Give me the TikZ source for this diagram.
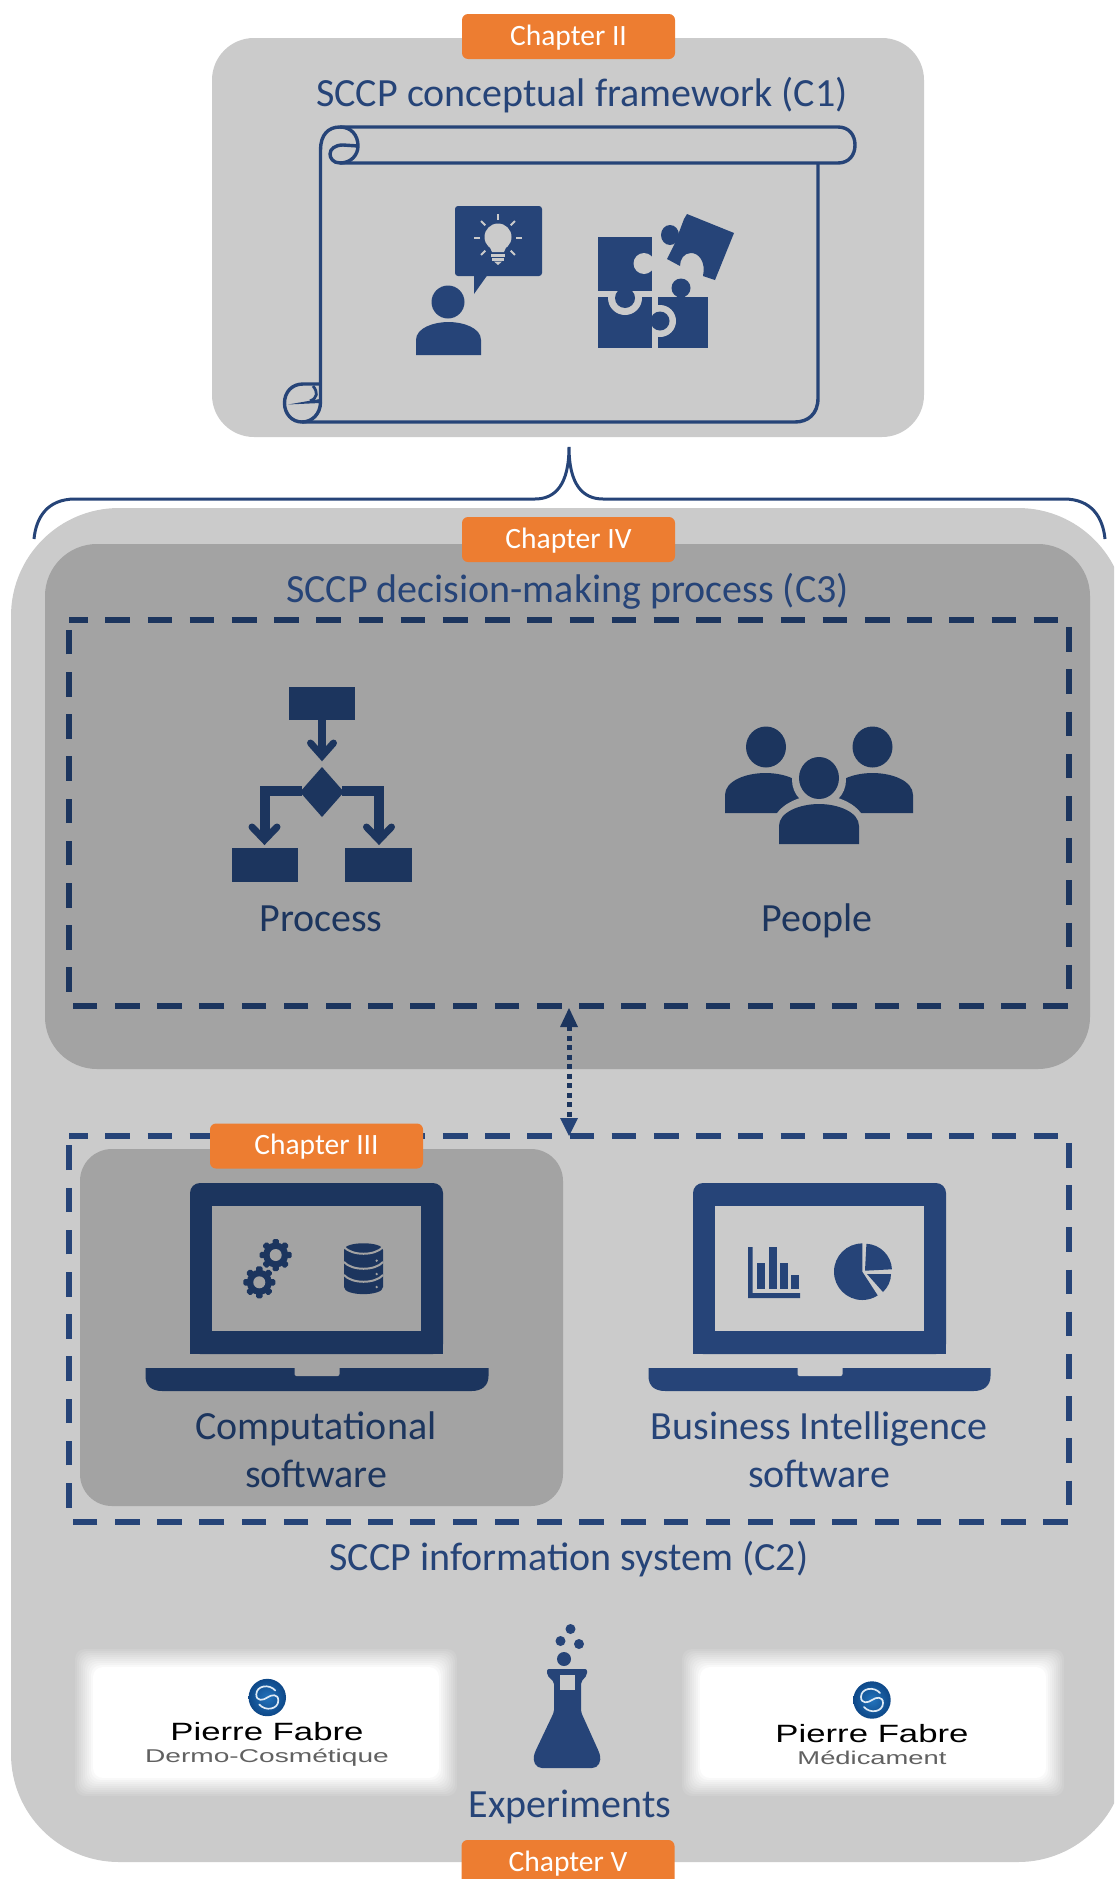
\documentclass[tikz,border=0pt]{standalone}
\usepackage{fontspec}
\setmainfont{Carlito}
\newfontfamily\pffont{Liberation Sans}
\definecolor{navy}{HTML}{264478}
\definecolor{darknavy}{HTML}{1C355E}
\definecolor{lightgrey}{HTML}{CBCBCB}
\definecolor{midgrey}{HTML}{A3A3A3}
\definecolor{tabor}{HTML}{ED7D31}
\definecolor{logoin}{HTML}{2273BC}
\definecolor{logoout}{HTML}{0E4888}
\tikzset{
  panel/.style={rounded corners=#1,draw=none},
  chaptertab/.style={fill=tabor,rounded corners=6pt,minimum height=45pt,minimum width=213pt,inner sep=0pt,
    text height=21pt,text depth=4pt,text=white,font=\fontsize{29.5}{32}\selectfont},
  heading/.style={anchor=base,inner sep=0pt,text=navy,font=\fontsize{40}{44}\selectfont},
  framebox/.style={minimum width=999.7pt,minimum height=385.7pt,inner sep=0pt,outer sep=0pt,anchor=north},
  dashedframe/.style={draw=#1,line width=6pt,dash pattern=on 24.6pt off 17.6pt,dash phase=6.2pt},
  scroll/.style={draw=navy,line width=3.4pt,line join=round,fill=none},
  pftext/.style={anchor=base,inner sep=0pt,transform shape,text=black,font=\pffont\fontsize{25}{28}\selectfont},
  pfsub/.style={anchor=base,inner sep=0pt,transform shape,text=black!62,font=\pffont\fontsize{18.5}{20}\selectfont},
  gearicon/.pic={
    \fill circle (12.5);
    \foreach \a in {0,45,...,315}{\fill[rotate=\a,rounded corners=1.5pt] (-3.2,-16) rectangle (3.2,-9);}
    \fill[midgrey] circle (6);},
  logoswirl/.pic={
    \shade[inner color=logoin,outer color=logoout] circle (18.7);
    \draw[white!85!logoin,line width=1.7pt,line cap=round] (8,-7) .. controls (2,-14) and (-11,-12) .. (-11,-3) .. controls (-11,4) and (-4,3) .. (0,0) .. controls (4,-3) and (11,-4) .. (11,3) .. controls (11,12) and (-2,14) .. (-8,7);
  },
  logopanel/.pic={
    \foreach \d/\o in {9/.1,7/.111,5/.125,3/.143,1/.167,-1/.2,-3/.25,-5/.333,-7/.5,-9/1}{
      \fill[white,opacity=\o,rounded corners=10pt] (-182-\d,-64.5-\d) rectangle (182+\d,64.5+\d);}
  },
}
\begin{document}
\begin{tikzpicture}[x=1pt,y=-1pt]
\useasboundingbox (0,0) rectangle (1114,1879);
\clip (0,0) rectangle (1114,1879);

% ---- top panel
\fill[lightgrey,panel=42pt] (212,38) rectangle (924,437);
\node[chaptertab] (ch2) at (568.5,36.5) {Chapter II};
\node[heading] (c1) at (582,106) {SCCP conceptual framework (C1)};

% scroll
\draw[scroll] (320.5,402) -- (320.5,150) .. controls (320.5,135) and (328,127) .. (340,127)
  .. controls (351,127) and (358,135) .. (358,146) .. controls (358,155) and (351,163) .. (340,163)
  .. controls (333,163) and (330,158) .. (330,154) .. controls (330,149) and (335,145) .. (343,145) -- (358,146);
\draw[scroll] (340,127) -- (838,127) .. controls (849,127) and (855,135) .. (855,145)
  .. controls (855,155) and (849,163) .. (838,163) -- (340,163);
\draw[scroll] (818,163) -- (818,398) .. controls (818,414) and (808,422) .. (795,422) -- (302,422);
\draw[scroll] (320.5,384) -- (303,384) .. controls (292,384) and (284.5,392) .. (284.5,403)
  .. controls (284.5,414) and (292,422) .. (302,422) .. controls (312,422) and (320.5,414) .. (320.5,402);
\draw[scroll,line width=2.8pt] (313,386) .. controls (318,392) and (318,398) .. (310,401);
\fill[navy] (288,404.5) -- (320,399) -- (320,403) -- cycle;

% person with idea bubble
\fill[navy] (448,302) circle (16.5);
\fill[navy] (416,355) -- (416,340) .. controls (416,328) and (433.5,322) .. (448.5,322) .. controls (463.5,322) and (481,328) .. (481,340) -- (481,355) -- cycle;
\fill[navy,rounded corners=3pt] (455,206) rectangle (542,276);
\fill[navy] (474,270) -- (474,294) -- (491,270) -- cycle;
\fill[lightgrey] (498,237) circle (13.5);
\fill[lightgrey] (488,243) -- (508,243) -- (504,252) -- (492,252) -- cycle;
\fill[lightgrey] (491,254) rectangle (505,256.5);
\fill[lightgrey] (492,258) rectangle (504,260.5);
\fill[lightgrey] (494,261.5) -- (502,261.5) -- (498,265) -- cycle;
\foreach \a in {-90,-45,0,45,135,180,225}{
  \draw[lightgrey,line width=1.8pt] (498,238) ++(\a:18) -- ++(\a:6);}

% puzzle
\fill[navy] (658,297) rectangle (708,348);
\fill[navy] (681,288) circle (9.5);
\fill[navy] (677,294) rectangle (685,298);
\fill[lightgrey] (660,321) circle (16);
\fill[navy] (598,297) rectangle (652,348);
\fill[navy] (660,321) circle (9.5);
\fill[navy] (650,316) rectangle (656,326);
\fill[lightgrey] (625,298) circle (17);
\fill[navy] (598,237) rectangle (652,291);
\fill[navy] (625,298) circle (10);
\fill[navy] (620,290) rectangle (630,294);
\fill[lightgrey] (644,263.5) circle (10.5);
\fill[lightgrey] (648,259) rectangle (653,268);
\fill[navy] (687,214) -- (734,233) -- (715,280) -- (703,276) .. controls (706,262) and (699,253) .. (691,253) .. controls (684,253) and (680,259) .. (680,266) -- (667,259) -- (675,243) -- (684,219) -- cycle;
\fill[navy] (670,235) circle [x radius=9,y radius=10];

% ---- lower panel
\fill[lightgrey,panel=108pt] (11,508) rectangle (1126,1862);

% brace
\draw[navy,line width=3pt] (34,539) .. controls (36,518) and (47,499) .. (75,499) -- (535,499)
  .. controls (555,499) and (569,485) .. (569,447) .. controls (569,485) and (583,499) .. (603,499) -- (1064,499)
  .. controls (1092,499) and (1103,518) .. (1105,539);

% ---- C3 panel
\fill[midgrey,panel=52pt] (45,544) rectangle (1090,1069);
\node[chaptertab] (ch4) at (568.5,539.5) {Chapter IV};
\node[heading] (c3) at (567.5,602) {SCCP decision-making process (C3)};
\node[framebox] (proc) at (569.15,620.3) {};
\draw[dashedframe=darknavy] (proc.north west) -- (proc.north east) -- (proc.south east) -- (proc.south west) -- cycle;

% process icon
\fill[darknavy] (288.5,687) rectangle (355,720);
\draw[darknavy,line width=8.5pt] (322,720) -- (322,752);
\draw[darknavy,line width=7pt,line cap=round,line join=miter] (310.5,743) -- (322,756) -- (333.5,743);
\fill[darknavy] (322,767) -- (344,792) -- (322,817) -- (300,792) -- cycle;
\draw[darknavy,line width=10pt] (302,791) -- (264.5,791) -- (264.5,835);
\draw[darknavy,line width=10pt] (342,791) -- (379,791) -- (379,835);
\draw[darknavy,line width=7pt,line cap=round,line join=miter] (252,827) -- (264.5,840) -- (277,827);
\draw[darknavy,line width=7pt,line cap=round,line join=miter] (366.5,827) -- (379,840) -- (391.5,827);
\fill[darknavy] (232,848) rectangle (298,881.5);
\fill[darknavy] (345,848) rectangle (412,881.5);
\node[heading,text=darknavy] (processlbl) at (321,931) {Process};

% people icon
\fill[darknavy] (766,747) circle [x radius=20,y radius=20.5];
\fill[darknavy] (872.5,747) circle [x radius=20,y radius=20.5];
\fill[darknavy] (725,813) -- (725,795) .. controls (725,781) and (745.5,773) .. (765.5,773) .. controls (785.5,773) and (806,781) .. (806,795) -- (806,813) -- cycle;
\fill[darknavy] (832,813) -- (832,795) .. controls (832,781) and (852.5,773) .. (872.5,773) .. controls (892.5,773) and (913,781) .. (913,795) -- (913,813) -- cycle;
\fill[midgrey] (819,780) circle (27);
\fill[midgrey] (772,844) -- (772,825) .. controls (775,805) and (800,795) .. (819,795) .. controls (838,795) and (863,805) .. (866,825) -- (866,844) -- cycle;
\fill[darknavy] (819,778) circle [x radius=20,y radius=21];
\fill[darknavy] (779,844) -- (779,826) .. controls (779,812) and (800,804) .. (819,804) .. controls (838,804) and (859,812) .. (859,826) -- (859,844) -- cycle;
\node[heading,text=darknavy] (peoplelbl) at (817,931) {People};

% ---- C2 frame and contents
\node[framebox] (is) at (569.15,1136) {};
\draw[dashedframe=navy] (is.north west) -- (is.north east) -- (is.south east) -- (is.south west) -- cycle;
\draw[darknavy,line width=5pt,dash pattern=on 5pt off 4.5pt,shorten <=20pt,shorten >=18pt] (proc.south) -- (is.north);
\fill[darknavy] (569,1008) -- (578,1027) -- (560,1027) -- cycle;
\fill[navy] (569,1136) -- (578,1118) -- (560,1118) -- cycle;

\fill[midgrey,panel=32pt] (80,1149) rectangle (563,1506);
\node[chaptertab] (ch3) at (316.5,1146) {Chapter III};

% computational laptop
\begin{scope}[shift={(316.5,1354)}]
 \fill[darknavy,rounded corners=10pt] (-126.5,0) -- (-126.5,-171) -- (126.5,-171) -- (126.5,0) -- cycle;
 \fill[darknavy] (-126.5,-20) rectangle (126.5,0);
 \fill[midgrey] (-105,-148) rectangle (104.5,-23);
 \fill[darknavy] (-171,14) -- (172,14) -- (172,22) .. controls (172,32) and (165,37) .. (155,37) -- (-154,37) .. controls (-165,37) and (-171,32) .. (-171,22) -- cycle;
 \fill[midgrey,rounded corners=2pt] (-22,12) -- (-22,22) -- (23,22) -- (23,12) -- cycle;
\end{scope}
\pic[darknavy] at (275.7,1255) {gearicon};
\pic[darknavy] at (259.3,1282.3) {gearicon};
% database
\fill[darknavy] (344,1250) .. controls (344,1241) and (383,1241) .. (383,1250) -- (383,1287) .. controls (383,1296.5) and (344,1296.5) .. (344,1287) -- cycle;
\foreach \yy in {1247,1262,1275}{
  \draw[midgrey,line width=2pt] (344,\yy) .. controls (352,\yy+9) and (375,\yy+9) .. (383,\yy);}
\foreach \yy in {1260.7,1274,1287}{\fill[midgrey] (376.7,\yy) circle (1.3);}
\node[heading,text=darknavy] (comp1) at (316,1439) {Computational};
\node[heading,text=darknavy] (comp2) at (316,1487) {software};

% BI laptop
\begin{scope}[shift={(819.5,1354)}]
 \fill[navy,rounded corners=10pt] (-126.5,0) -- (-126.5,-171) -- (126.5,-171) -- (126.5,0) -- cycle;
 \fill[navy] (-126.5,-20) rectangle (126.5,0);
 \fill[lightgrey] (-105,-148) rectangle (104.5,-23);
 \fill[navy] (-171,14) -- (171,14) -- (171,22) .. controls (171,32) and (164,37) .. (154,37) -- (-154,37) .. controls (-165,37) and (-171,32) .. (-171,22) -- cycle;
 \fill[lightgrey,rounded corners=2pt] (-22,12) -- (-22,22) -- (23,22) -- (23,12) -- cycle;
\end{scope}
% bar chart
\fill[navy] (748,1247) -- (752.7,1247) -- (752.7,1293) -- (800,1293) -- (800,1298) -- (748,1298) -- cycle;
\fill[navy] (757,1263) rectangle (765,1289);
\fill[navy] (769,1247) rectangle (777,1289);
\fill[navy] (780,1263) rectangle (788,1289);
\fill[navy] (791,1275) rectangle (799,1289);
% pie chart
\fill[navy] (862.3,1271.7) -- ++(-90:28.3) arc[start angle=-90,end angle=-303,radius=28.3] -- cycle;
\fill[navy] (865,1270.7) -- ++(-87:27) arc[start angle=-87,end angle=-3,radius=27] -- cycle;
\fill[navy] (867,1274) -- (891,1274) .. controls (891,1281) and (888,1287) .. (883,1292) -- cycle;
\node[heading] (bi1) at (819,1439) {Business Intelligence};
\node[heading] (bi2) at (819,1487) {software};
\node[heading] (c2) at (569,1570) {SCCP information system (C2)};

% ---- logos
\pic at (266,1722.5) {logopanel};
\pic at (873,1722.5) {logopanel};
\pic at (267.3,1697.5) {logoswirl};
\pic at (872,1700) {logoswirl};
\node[pftext,xscale=1.39] (pf1) at (267,1740) {Pierre Fabre};
\node[pfsub,xscale=1.52] (pf1b) at (267,1762) {Dermo-Cosmétique};
\node[pftext,xscale=1.39] (pf2) at (872,1742) {Pierre Fabre};
\node[pfsub,xscale=1.48] (pf2b) at (872,1764) {Médicament};

% flask
\fill[navy] (570.5,1629) circle (5);
\fill[navy] (560.5,1641) circle (5);
\fill[navy] (579,1644) circle (5);
\fill[navy] (564,1659) circle (7);
\fill[navy,rounded corners=2pt] (547,1669) -- (587,1669) -- (587,1675) -- (581,1682) -- (581,1712) -- (599,1752) .. controls (602,1762) and (598,1768) .. (590,1768) -- (544,1768) .. controls (536,1768) and (532,1762) .. (535,1752) -- (554,1712) -- (554,1682) -- (547,1675) -- cycle;
\fill[lightgrey] (560,1675) rectangle (575,1690);
\node[heading] (expts) at (570,1817) {Experiments};
\node[chaptertab] (ch5) at (568,1862.5) {Chapter V};
\end{tikzpicture}
\end{document}
